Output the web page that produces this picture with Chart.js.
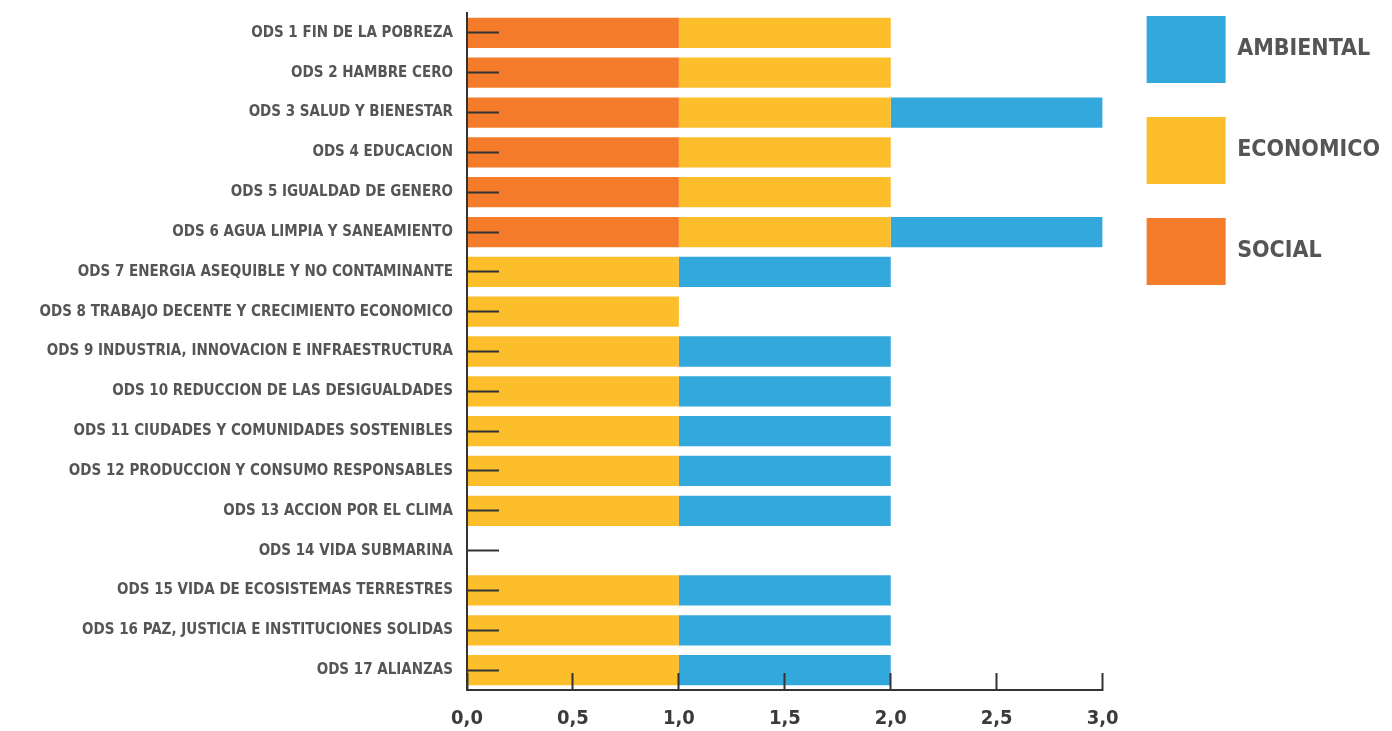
<!DOCTYPE html>
<html>
<head>
<meta charset="utf-8">
<script src="https://cdn.jsdelivr.net/npm/chart.js@4"></script>
<style>
    body { margin: 0; background: #fff; }
    canvas { display: block; }
</style>
</head>
<body>
<canvas id="odsChart" width="1392" height="731"></canvas>
<script>
const categories = [
    "ODS 1 FIN DE LA POBREZA",
    "ODS 2 HAMBRE CERO",
    "ODS 3 SALUD Y BIENESTAR",
    "ODS 4 EDUCACION",
    "ODS 5 IGUALDAD DE GENERO",
    "ODS 6 AGUA LIMPIA Y SANEAMIENTO",
    "ODS 7 ENERGIA ASEQUIBLE Y NO CONTAMINANTE",
    "ODS 8 TRABAJO DECENTE Y CRECIMIENTO ECONOMICO",
    "ODS 9 INDUSTRIA, INNOVACION E INFRAESTRUCTURA",
    "ODS 10 REDUCCION DE LAS DESIGUALDADES",
    "ODS 11 CIUDADES Y COMUNIDADES SOSTENIBLES",
    "ODS 12 PRODUCCION Y CONSUMO RESPONSABLES",
    "ODS 13 ACCION POR EL CLIMA",
    "ODS 14 VIDA SUBMARINA",
    "ODS 15 VIDA DE ECOSISTEMAS TERRESTRES",
    "ODS 16 PAZ, JUSTICIA E INSTITUCIONES SOLIDAS",
    "ODS 17 ALIANZAS",
];

const social =     [1, 1, 1, 1, 1, 1, 0, 0, 0, 0, 0, 0, 0, 0, 0, 0, 0];
const economico =  [1, 1, 1, 1, 1, 1, 1, 1, 1, 1, 1, 1, 1, 0, 1, 1, 1];
const ambiental =  [0, 0, 1, 0, 0, 1, 1, 0, 1, 1, 1, 1, 1, 0, 1, 1, 1];

const xTickLabels = ["0,0", "0,5", "1,0", "1,5", "2,0", "2,5", "3,0"];

const fontFamily = "'Liberation Sans Narrow', 'DejaVu Sans Condensed', sans-serif";
const axisColor = "#333333";

// moves the legend block to where the boxes sit in the original
const legendNudge = {
    id: "legendNudge",
    afterLayout(chart) {
        const lg = chart.legend;
        lg.left += 10;
        lg.right += 10;
        lg.top -= 31;
        lg.bottom -= 31;
    },
};

const canvas = document.getElementById("odsChart");

new Chart(canvas, {
    type: "bar",
    data: {
        labels: categories,
        datasets: [
            {
                label: "SOCIAL",
                data: social,
                backgroundColor: "#F47B2A",
            },
            {
                label: "ECONOMICO",
                data: economico,
                backgroundColor: "#FDBE2C",
            },
            {
                label: "AMBIENTAL",
                data: ambiental,
                backgroundColor: "#33A8DC",
            },
        ],
    },
    options: {
        indexAxis: "y",
        responsive: false,
        animation: false,
        layout: {
            padding: { top: 13, left: 0, right: 12, bottom: 0 },
        },
        datasets: {
            bar: {
                categoryPercentage: 1,
                barPercentage: 0.76,
                borderWidth: 0,
            },
        },
        scales: {
            x: {
                stacked: true,
                min: 0,
                max: 3,
                afterFit(scale) {
                    scale.height = 41;
                    scale.paddingLeft = 0;
                    scale.paddingRight = 0;
                },
                afterBuildTicks(scale) {
                    scale.ticks = xTickLabels.map((t, i) => ({ value: i * 0.5 }));
                },
                ticks: {
                    callback: (value, index) => xTickLabels[index],
                    color: "#3a3a3a",
                    padding: 34,
                    font: { family: fontFamily, size: 20, weight: "bold" },
                },
                grid: {
                    drawOnChartArea: false,
                    drawTicks: true,
                    tickLength: -17,
                    tickWidth: 2,
                    tickColor: axisColor,
                    z: 1,
                },
                border: { color: axisColor, width: 2, z: 1 },
            },
            y: {
                stacked: true,
                afterFit(scale) {
                    scale.width = 467;
                    scale.paddingTop = 0;
                    scale.paddingBottom = 0;
                },
                ticks: {
                    autoSkip: false,
                    color: "#555555",
                    padding: 46,
                    font: { family: fontFamily, size: 15, weight: "bold" },
                },
                grid: {
                    offset: false,
                    drawOnChartArea: false,
                    drawTicks: true,
                    tickLength: -32,
                    tickWidth: 2,
                    tickColor: axisColor,
                    z: 1,
                },
                border: { color: axisColor, width: 2, z: 1 },
            },
        },
        plugins: {
            legend: {
                position: "right",
                align: "start",
                reverse: true,
                maxWidth: 290,
                labels: {
                    boxWidth: 79,
                    boxHeight: 67,
                    padding: 34,
                    color: "#555555",
                    font: { family: fontFamily, size: 23, weight: "bold" },
                },
            },
            tooltip: { enabled: false },
        },
    },
    plugins: [legendNudge],
});
</script>
</body>
</html>
